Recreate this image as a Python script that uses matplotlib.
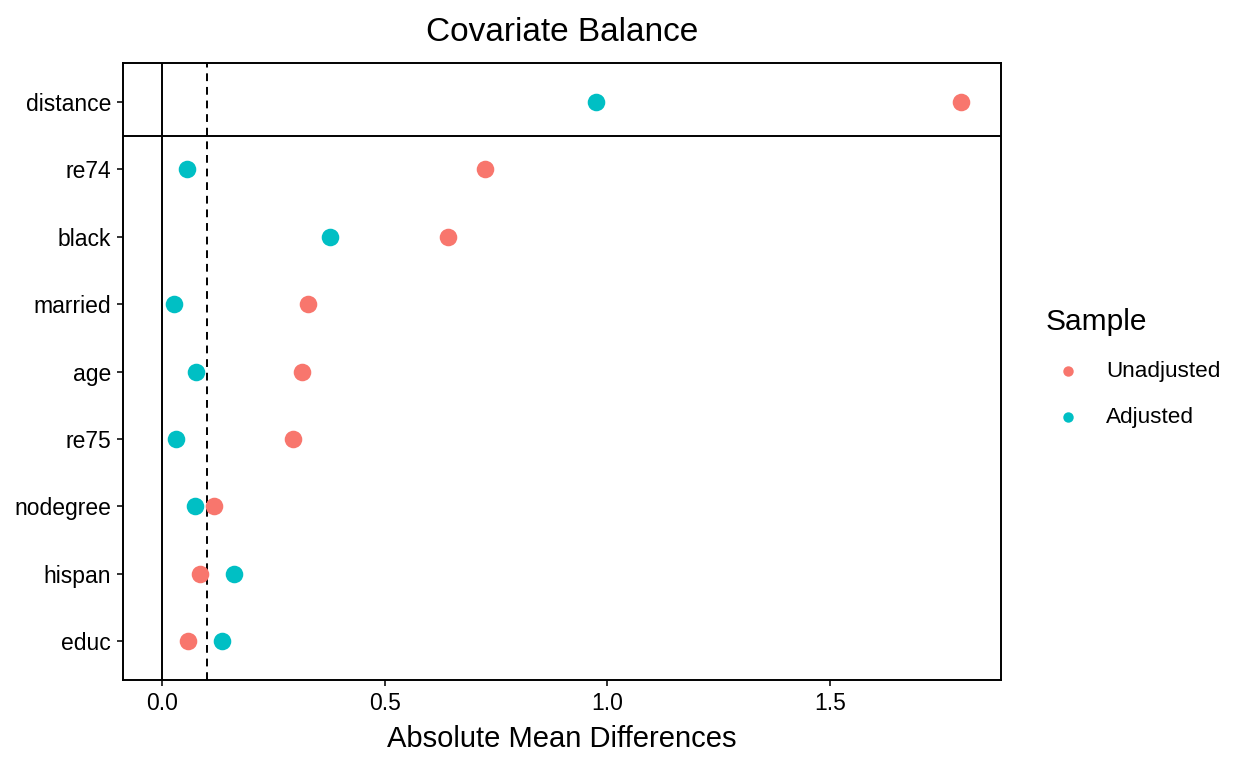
import matplotlib
matplotlib.use("Agg")
import matplotlib.pyplot as plt
from matplotlib.lines import Line2D

plt.rcParams['font.family'] = ['Liberation Sans', 'DejaVu Sans']

covariates = ["educ", "hispan", "nodegree", "re75", "age", "married", "black", "re74", "distance"]
unadjusted = [0.059, 0.086, 0.116, 0.293, 0.313, 0.327, 0.643, 0.724, 1.795]
adjusted = [0.134, 0.161, 0.073, 0.030, 0.077, 0.026, 0.376, 0.055, 0.975]
xticks = [0.0, 0.5, 1.0, 1.5]
xticklabels = ["0.0", "0.5", "1.0", "1.5"]
threshold = 0.1
sample_labels = ["Unadjusted", "Adjusted"]

c_un = "#F8766D"
c_ad = "#00BFC4"
W, H = 1248, 768

fig = plt.figure(figsize=(W/100, H/100), dpi=100)
ax = fig.add_axes([123/W, 88/H, (1001-123)/W, (680-63)/H])

ypos = list(range(1, len(covariates) + 1))
ax.axvline(0, color="black", lw=1.4, zorder=1)
ax.axvline(threshold, color="black", lw=1.4, ls=(0, (4, 3)), zorder=1)
ax.axhline(len(covariates) - 0.5, color="black", lw=1.4, zorder=1)

ax.scatter(unadjusted, ypos, s=160, color=c_un, zorder=3, linewidths=0)
ax.scatter(adjusted, ypos, s=160, color=c_ad, zorder=3, linewidths=0)

ax.set_xlim(-0.088, 1.884)
ax.set_ylim(0.42, len(covariates) + 0.58)
ax.set_yticks(ypos)
ax.set_yticklabels(covariates, fontsize=16.5)
ax.set_xticks(xticks)
ax.set_xticklabels(xticklabels, fontsize=16.5)
ax.tick_params(axis="both", length=4.5, width=1.4, color="#333333", pad=4, labelcolor="black")
for sp in ax.spines.values():
    sp.set_linewidth(1.4)
    sp.set_color("black")

ax.set_xlabel("Absolute Mean Differences", fontsize=21, labelpad=7)
ax.set_title("Covariate Balance", fontsize=24, pad=16)

# legend
fig.text(1046/W, 1 - 322/H, "Sample", fontsize=21.5, ha="left", va="center")
for lab, col, yy in zip(sample_labels, [c_un, c_ad], [371, 417]):
    fig.add_artist(Line2D([1068/W], [1 - yy/H], marker="o", ls="", color=col,
                          markersize=7.5, markeredgewidth=0, transform=fig.transFigure))
    fig.text(1106/W, 1 - yy/H, lab, fontsize=16.2, ha="left", va="center")

fig.savefig("out.png", dpi=100)
